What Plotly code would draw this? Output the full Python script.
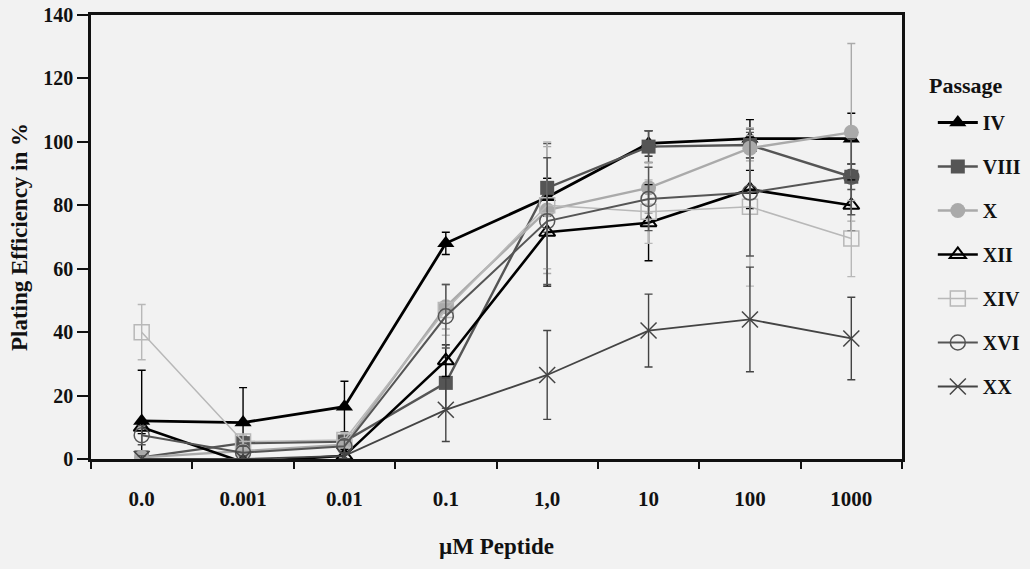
import plotly.graph_objects as go

conc = ["0.0", "0.001", "0.01", "0.1", "1,0", "10", "100", "1000"]

IV = [12, 11.5, 16.5, 68, 82.5, 99.5, 101, 101]
IV_err = [16, 11, 8, 3.5, 6, 4, 6, 8]
VIII = [0.5, 5, 5.5, 24, 85.5, 98.5, 99, 89]
VIII_err = [1, 2, 2, 8, 14, 5, 4, 4]
X = [0.5, 2.5, 4.5, 48, 78.5, 85.5, 98, 103]
X_err = [1, 3, 2, 7, 20, 8, 4, 28]
XII = [10, -1, 1, 31, 71.5, 74.5, 85, 80]
XII_err = [2, 1, 2, 5, 17, 12, 6, 8]
XIV = [40, 5.5, 6, 47, 80, 78, 79.5, 69.5]
XIV_err = [8.7, 2, 2, 8, 20, 10, 25, 12]
XVI = [7.5, 2, 4, 45, 75, 82, 84, 89]
XVI_err = [3, 2, 2, 10, 20, 10, 20, 12]
XX = [0, 0, 1, 15.5, 26.5, 40.5, 44, 38]
XX_err = [1, 1, 1, 10, 14, 11.5, 16.5, 13]

series = [
    ("IV", IV, IV_err, "#000000", "triangle-up", 2.8, 15, None),
    ("VIII", VIII, VIII_err, "#555555", "square", 2.4, 14, None),
    ("X", X, X_err, "#aaaaaa", "circle", 2.4, 15, None),
    ("XII", XII, XII_err, "#000000", "triangle-up-open", 2.6, 14, 2),
    ("XIV", XIV, XIV_err, "#b8b8b8", "square-open", 1.5, 15, 1.5),
    ("XVI", XVI, XVI_err, "#555555", "circle-open", 2.0, 15, 1.5),
    ("XX", XX, XX_err, "#444444", "x-thin-open", 1.8, 16, 1.5),
]

fig = go.Figure()
for i, (name, ys, err, col, sym, lw, ms, mlw) in enumerate(series):
    marker = dict(symbol=sym, size=ms, color=col)
    if mlw is not None:
        marker["line"] = dict(color=col, width=mlw)
    fig.add_trace(go.Scatter(
        x=conc, y=ys, name=name, mode="lines+markers",
        line=dict(color=col, width=lw),
        marker=marker,
        legendgroup=name,
        error_y=dict(type="data", array=err, visible=True, color=col,
                     thickness=1.4, width=4),
    ))

font_serif = "Liberation Serif"
fig.add_annotation(
    text="<b>Passage</b>", xref="paper", yref="paper",
    x=1.079, y=(459 - 85) / 444, xanchor="center", yanchor="middle",
    showarrow=False, font=dict(size=22, family=font_serif, color="#111111"),
)
fig.update_layout(
    width=1030, height=569,
    margin=dict(l=91, r=128, t=15, b=110, autoexpand=False),
    paper_bgcolor="#f2f2f2",
    plot_bgcolor="#f2f2f2",
    font=dict(family=font_serif, color="#111111", size=20, weight="bold"),
    showlegend=True,
    legend=dict(
        x=1.038, y=(459 - 103) / 444, xanchor="left", yanchor="top",
        font=dict(size=20, family=font_serif, weight="bold"),
        bgcolor="rgba(0,0,0,0)",
        tracegroupgap=15,
        itemwidth=40,
    ),
    xaxis=dict(
        type="category",
        range=[-0.5, 7.5],
        tickson="boundaries",
        ticks="outside", ticklen=7, tickwidth=1.5, tickcolor="#111",
        showline=True, linewidth=2.5, linecolor="#111", mirror=True,
        showgrid=False, zeroline=False,
        tickfont=dict(size=21, family=font_serif, weight="bold"),
        ticklabelstandoff=19,
        title=dict(text="<b>µM Peptide</b>", font=dict(size=23, family=font_serif), standoff=28),
    ),
    yaxis=dict(
        range=[0, 140],
        tickvals=[0, 20, 40, 60, 80, 100, 120, 140],
        ticks="outside", ticklen=11, tickwidth=1.5, tickcolor="#111",
        showline=True, linewidth=2.5, linecolor="#111", mirror=True,
        showgrid=False, zeroline=False,
        tickfont=dict(size=20, family=font_serif, weight="bold"),
        title=dict(text="<b>Plating Efficiency in %</b>", font=dict(size=23, family=font_serif), standoff=10),
    ),
)

fig.write_html("out.html")
